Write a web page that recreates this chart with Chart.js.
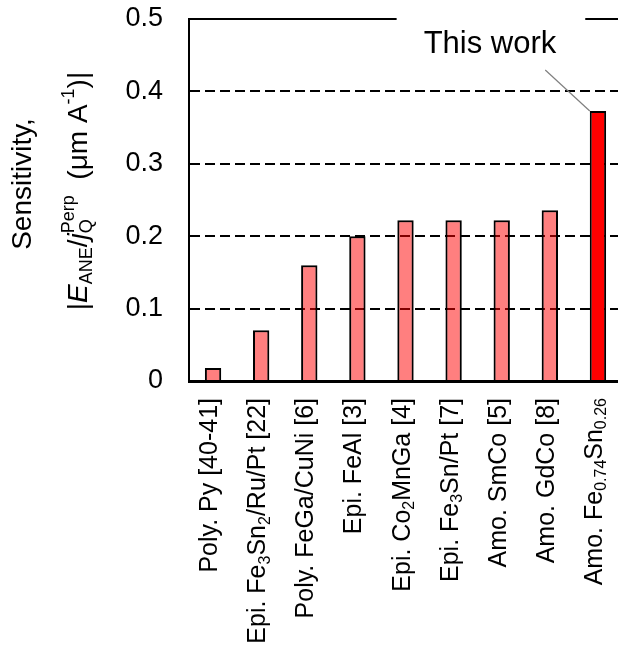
<!DOCTYPE html>
<html>
<head>
<meta charset="utf-8">
<script src="https://cdn.jsdelivr.net/npm/chart.js@4"></script>
<style>
html,body{margin:0;padding:0;background:#fff;overflow:hidden;}
#wrap{width:622px;height:650px;}
</style>
</head>
<body>
<div id="wrap"><canvas id="c"></canvas></div>
<script>
// categories, with _{..} for subscripts
const categories = [
  "Poly. Py [40-41]",
  "Epi. Fe_{3}Sn_{2}/Ru/Pt [22]",
  "Poly. FeGa/CuNi [6]",
  "Epi. FeAl [3]",
  "Epi. Co_{2}MnGa [4]",
  "Epi. Fe_{3}Sn/Pt [7]",
  "Amo. SmCo [5]",
  "Amo. GdCo [8]",
  "Amo. Fe_{0.74}Sn_{0.26}"
];
const sensitivity = [0.018, 0.07, 0.16, 0.2, 0.222, 0.222, 0.222, 0.236, 0.373];
const yTicks = [0, 0.1, 0.2, 0.3, 0.4, 0.5];
const thisWork = 8;
const noteText = "This work";
const yTitleLine1 = "Sensitivity,";
// [text, kind] kind: n normal, i italic, sub, sup, supOver (sup stacked over previous sub)
const yTitleLine2 = [["|","n"],["E","i"],["ANE","sub"],["/","n"],["j","i"],["Q","sub"],["Perp","supOver"],["  (\u03bcm A","n"],["-1","sup"],[")|","n"]];

const FONT = '"Liberation Sans", Arial, sans-serif';

function parseLabel(s){
  let out=[], re=/_\{([^}]*)\}/g, last=0, m;
  while((m=re.exec(s))){
    if(m.index>last) out.push([s.slice(last,m.index),"n"]);
    out.push([m[1],"sub"]);
    last=re.lastIndex;
  }
  if(last<s.length) out.push([s.slice(last),"n"]);
  return out;
}

function segFont(kind,size){
  if(kind=="i") return "italic "+size+"px "+FONT;
  if(kind=="n") return size+"px "+FONT;
  return Math.round(size*0.65)+"px "+FONT;
}

function layoutSegs(ctx,segs,size){
  let x=0, subStart=0, items=[];
  segs.forEach(([t,k])=>{
    ctx.font=segFont(k,size);
    let w=ctx.measureText(t).width;
    let dy = k=="sub" ? size*0.18 : (k=="sup"||k=="supOver") ? -size*0.45 : 0;
    if(k=="supOver"){
      items.push({t,k,x:subStart,dy});
      x=Math.max(x,subStart+w);
      return;
    }
    if(k=="sub") subStart=x;
    items.push({t,k,x,dy});
    x+=w;
  });
  return {items,width:x};
}

// draws rotated (-90deg) text; anchor = baseline point, align 'end' or 'center'
function drawRotated(ctx,segs,size,ax,ay,align){
  const L=layoutSegs(ctx,segs,size);
  const start = align=="end" ? -L.width : -L.width/2;
  ctx.save();
  ctx.translate(ax,ay);
  ctx.rotate(-Math.PI/2);
  ctx.fillStyle="#000";
  ctx.textBaseline="alphabetic";
  ctx.textAlign="left";
  L.items.forEach(it=>{
    ctx.font=segFont(it.k,size);
    ctx.fillText(it.t,start+it.x,it.dy);
  });
  ctx.restore();
}

const decor = {
  id:"decor",
  afterDatasetsDraw(chart){
    const {ctx,chartArea,scales:{x,y}}=chart;
    const yTop=y.getPixelForValue(yTicks[yTicks.length-1]);
    const bar=chart.getDatasetMeta(0).data[thisWork];
    ctx.save();
    ctx.font="31px "+FONT;
    const tw=ctx.measureText(noteText).width;
    const cx=bar.x-108;
    // solid top line, broken by the note
    ctx.strokeStyle="#000";ctx.lineWidth=2;
    ctx.beginPath();
    ctx.moveTo(chartArea.left,yTop);ctx.lineTo(cx-tw/2-27,yTop);
    ctx.moveTo(cx+tw/2+29,yTop);ctx.lineTo(chartArea.right,yTop);
    ctx.stroke();
    ctx.fillStyle="#000";ctx.textAlign="center";ctx.textBaseline="alphabetic";
    ctx.fillText(noteText,cx,yTop+34);
    ctx.strokeStyle="#7f7f7f";ctx.lineWidth=1.2;
    ctx.beginPath();
    ctx.moveTo(cx+tw/2-11,yTop+51);
    ctx.lineTo(bar.x-bar.width/2,bar.y);
    ctx.stroke();
    ctx.restore();

    // category labels
    categories.forEach((c,i)=>{
      drawRotated(ctx,parseLabel(c),25,x.getPixelForValue(i)+4,chartArea.bottom+17,"end");
    });
    // y title
    drawRotated(ctx,[[yTitleLine1,"n"]],28,31,184,"center");
    drawRotated(ctx,yTitleLine2,28,87,191,"center");
  }
};

new Chart(document.getElementById("c"),{
  type:"bar",
  data:{
    labels:categories.map(c=>c.replace(/_\{([^}]*)\}/g,"$1")),
    datasets:[{
      data:sensitivity,
      backgroundColor:sensitivity.map((v,i)=>i==thisWork?"#ff0000":"rgba(255,0,0,0.5)"),
      borderColor:"#000",
      borderWidth:2,
      borderSkipped:"bottom",
      barPercentage:0.34,
      categoryPercentage:1
    }]
  },
  options:{
    responsive:true,
    maintainAspectRatio:false,
    animation:false,
    layout:{autoPadding:false,padding:{top:19,left:0,right:0,bottom:0}},
    plugins:{legend:{display:false},tooltip:{enabled:false}},
    scales:{
      x:{
        grid:{display:false},
        border:{display:true,color:"#000",width:3},
        ticks:{display:false},
        afterFit:s=>{s.height=269;}
      },
      y:{
        min:0,max:0.5,
        afterBuildTicks:s=>{s.ticks=yTicks.map(v=>({value:v}));},
        grid:{
          drawTicks:false,
          lineWidth:2,
          color:c=>(c.tick && c.tick.value>0 && c.tick.value<0.5)?"#000":"rgba(0,0,0,0)"
        },
        border:{display:true,color:"#000",width:2,dash:[10,5]},
        ticks:{
          padding:26,
          color:"#000",
          font:{family:FONT,size:27},
          callback:v=>v===0?"0":v.toFixed(1)
        },
        afterFit:s=>{s.width=189;s.paddingTop=0;s.paddingBottom=0;}
      }
    }
  },
  plugins:[decor]
});
</script>
</body>
</html>
